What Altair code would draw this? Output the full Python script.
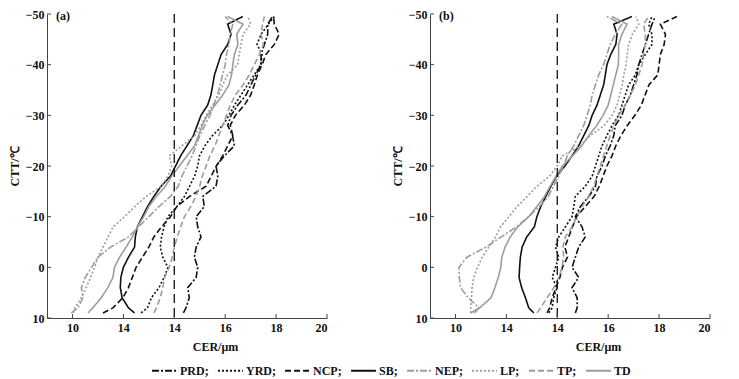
import altair as alt
import pandas as pd

# CTT sample levels (°C), shared by every curve
ctt = [9, 8, 6, 4, 2, 0, -2, -4, -6, -8, -10, -12, -14, -16, -18, -20, -22, -24,
       -26, -28, -30, -32, -34, -36, -38, -40, -42, -44, -46, -48, -49.5]

series = ["PRD", "YRD", "NCP", "SB", "NEP", "LP", "TP", "TD"]

# panel (a): CER (μm) at each CTT level
PRD_a = [14.36, 14.46, 14.59, 14.53, 14.86, 14.92, 14.79, 14.86, 15.05, 14.92, 14.86, 15.18, 15.12, 15.64, 15.71, 15.64,
         15.97, 16.36, 16.29, 16.1, 16.23, 16.49, 16.82, 17.01, 17.2, 17.41, 17.41, 17.54, 17.67, 17.67, 17.86]
YRD_a = [12.7, 12.95, 13.1, 13.4, 13.6, 13.75, 13.55, 13.45, 13.5, 13.6, 13.75, 14.1, 14.4, 14.6, 14.8, 14.92,
         14.99, 15.2, 15.5, 15.9, 16.15, 16.36, 16.62, 16.88, 17.14, 17.4, 17.45, 17.25, 17.41, 17.7, 17.93]
NCP_a = [11.2, 11.59, 11.98, 12.2, 12.35, 12.5, 12.75, 13.0, 13.2, 13.5, 13.85, 14.1, 14.6, 15.25, 15.45, 15.65,
         15.9, 16.1, 16.3, 16.2, 16.4, 16.75, 17.0, 17.14, 17.27, 17.45, 17.6, 17.93, 18.12, 17.93, 17.9]
SB_a = [12.44, 12.2, 11.95, 11.88, 11.9, 12.0, 12.2, 12.44, 12.47, 12.55, 12.75, 12.95, 13.2, 13.48, 13.85, 14.05,
        14.25, 14.5, 14.75, 14.9, 15.05, 15.31, 15.44, 15.51, 15.58, 15.71, 15.84, 16.1, 16.23, 16.1, 16.69]
NEP_a = [9.95, 10.22, 10.41, 10.35, 10.5, 10.75, 11.0, 11.5, 12.2, 12.6, 13.0, 13.4, 13.85, 14.15, 14.3, 14.5,
         14.7, 14.85, 15.0, 15.2, 15.4, 15.55, 15.7, 15.8, 15.9, 16.0, 16.05, 16.15, 16.2, 16.3, 16.0]
LP_a = [10.02, 10.1, 10.35, 10.54, 10.71, 10.87, 11.0, 11.2, 11.4, 11.6, 12.05, 12.45, 12.9, 13.5, 13.75, 13.9,
        13.8, 14.3, 14.8, 15.05, 15.25, 15.5, 15.75, 15.9, 16.1, 16.49, 16.55, 16.62, 16.7, 17.0, 16.9]
TP_a = [13.2, 13.3, 13.45, 13.55, 13.62, 13.8, 13.92, 14.0, 14.12, 14.25, 14.4, 14.65, 14.85, 15.0, 15.1, 15.25,
        15.4, 15.6, 15.75, 15.9, 16.05, 16.2, 16.4, 16.7, 16.95, 17.14, 17.35, 17.5, 17.41, 17.47, 17.54]
TD_a = [10.61, 10.8, 11.13, 11.39, 11.59, 11.65, 11.85, 12.11, 12.35, 12.55, 12.8, 13.0, 13.3, 13.65, 13.9, 14.2,
        14.5, 14.8, 14.95, 15.1, 15.3, 15.6, 15.9, 16.15, 16.25, 16.3, 16.36, 16.5, 16.45, 16.7, 16.1]

# panel (b)
PRD_b = [14.71, 14.78, 14.78, 14.58, 14.84, 14.58, 14.71, 14.84, 15.1, 14.97, 14.71, 14.91, 15.24, 15.5, 15.56, 15.76,
         15.89, 16.08, 16.22, 16.28, 16.54, 16.67, 16.87, 17.0, 17.13, 17.2, 17.33, 17.46, 17.59, 17.72, 17.85]
YRD_b = [13.67, 13.8, 13.86, 13.99, 13.8, 13.93, 14.06, 13.93, 14.06, 14.32, 14.58, 14.65, 14.71, 15.1, 15.37, 15.5,
         15.63, 15.76, 15.95, 16.15, 16.41, 16.54, 16.67, 16.8, 17.07, 17.2, 17.46, 17.72, 17.72, 17.59, 17.72]
NCP_b = [13.6, 13.7, 13.8, 13.95, 14.1, 14.2, 14.4, 14.3, 14.45, 14.6, 14.75, 15.1, 15.45, 15.65, 15.8, 15.95,
         16.15, 16.3, 16.5, 16.75, 17.05, 17.3, 17.45, 17.6, 17.95, 18.0, 18.05, 18.2, 18.25, 18.05, 18.7]
SB_b = [13.08, 12.88, 12.75, 12.6, 12.5, 12.52, 12.55, 12.62, 12.8, 13.1, 13.2, 13.35, 13.55, 13.75, 13.97, 14.3,
        14.58, 14.84, 15.04, 15.24, 15.37, 15.56, 15.69, 15.82, 15.89, 15.95, 16.1, 16.3, 16.35, 16.22, 16.93]
NEP_b = [10.75, 10.92, 10.5, 10.2, 10.15, 10.14, 10.45, 11.2, 11.8, 12.4, 12.88, 13.3, 13.65, 13.85, 14.05, 14.25,
         14.39, 14.65, 14.84, 15.04, 15.17, 15.3, 15.37, 15.5, 15.63, 15.82, 15.95, 16.08, 16.28, 16.54, 15.95]
LP_b = [10.6, 10.6, 10.63, 10.65, 10.72, 10.86, 11.05, 11.31, 11.58, 11.77, 12.1, 12.42, 12.82, 13.2, 13.7, 14.0,
        14.2, 14.9, 15.3, 15.85, 16.15, 16.35, 16.45, 16.55, 16.62, 16.7, 16.75, 16.8, 16.95, 17.2, 17.1]
TP_b = [13.21, 13.34, 13.6, 13.86, 14.06, 14.19, 14.25, 14.22, 14.32, 14.58, 14.78, 14.97, 15.24, 15.43, 15.56, 15.69,
        15.82, 15.95, 16.08, 16.22, 16.41, 16.67, 16.87, 17.07, 17.2, 17.33, 17.39, 17.46, 17.46, 17.39, 17.59]
TD_b = [10.6, 10.95, 11.4, 11.55, 11.68, 11.78, 11.82, 11.95, 12.15, 12.45, 12.88, 13.2, 13.5, 13.72, 13.95, 14.2,
        14.6, 14.96, 15.24, 15.55, 15.8, 16.0, 16.1, 16.2, 16.3, 16.4, 16.41, 16.41, 16.54, 16.74, 16.15]

panel_a = [PRD_a, YRD_a, NCP_a, SB_a, NEP_a, LP_a, TP_a, TD_a]
panel_b = [PRD_b, YRD_b, NCP_b, SB_b, NEP_b, LP_b, TP_b, TD_b]

x_ticks = [10, 12, 14, 16, 18, 20]
y_ticks = [-50, -40, -30, -20, -10, 0, 10]
ref_cer = [14]

colors = ["#111111", "#111111", "#111111", "#111111", "#9d9d9d", "#9d9d9d", "#9d9d9d", "#9d9d9d"]
dashes = [[7, 2, 2, 2], [2, 2], [6, 3], [1, 0], [7, 2, 2, 2], [2, 2], [6, 3], [1, 0]]

FONT = "Liberation Serif"
W, H = 280, 304


def long_df(values):
    rows = []
    for name, arr in zip(series, values):
        for i, (t, c) in enumerate(zip(ctt, arr)):
            rows.append({"series": name, "idx": i, "ctt": t, "cer": c})
    return pd.DataFrame(rows)


legend = alt.Legend(
    title=None, orient="none", legendX=104, legendY=343, direction="horizontal", columns=8,
    symbolType="stroke", symbolSize=620, symbolStrokeWidth=2, symbolOpacity=1, columnPadding=5, labelOffset=2,
    labelFont=FONT, labelFontSize=12, labelFontWeight="bold", labelColor="#111",
    labelExpr="datum.label == 'TD' ? datum.label : datum.label + ';'",
)

xscale = alt.Scale(domain=[9, 20], nice=False, zero=False)
yscale = alt.Scale(domain=[-50, 10], reverse=True, nice=False, zero=False)
xaxis = alt.Axis(values=x_ticks, title="CER/μm",
                 labelExpr="datum.value == 12 ? '14' : datum.label",
                 titleX=168, titleAlign="center")
yaxis = alt.Axis(values=y_ticks, title="CTT/℃")


def X(field="cer"):
    return alt.X(f"{field}:Q", scale=xscale, axis=xaxis)


def Y(field="ctt"):
    return alt.Y(f"{field}:Q", scale=yscale, axis=yaxis)


def panel(values, tag):
    df = long_df(values)
    lines = alt.Chart(df).mark_line(strokeWidth=1.6).encode(
        x=X(), y=Y(),
        color=alt.Color("series:N", scale=alt.Scale(domain=series, range=colors), legend=legend),
        strokeDash=alt.StrokeDash("series:N", scale=alt.Scale(domain=series, range=dashes), legend=legend),
        order="idx:Q",
    )
    ref = alt.Chart(pd.DataFrame({"cer": ref_cer})).mark_rule(
        color="#111", strokeDash=[9, 5], strokeWidth=1.3
    ).encode(x=X())
    xt = alt.Chart(pd.DataFrame({"cer": x_ticks})).mark_rule(color="#444", strokeWidth=1).encode(
        x=X(), y=alt.value(H), y2=alt.value(H - 4))
    yt = alt.Chart(pd.DataFrame({"ctt": y_ticks})).mark_rule(color="#444", strokeWidth=1).encode(
        y=Y(), x=alt.value(0), x2=alt.value(4))
    lab = alt.Chart(pd.DataFrame({"t": [tag]})).mark_text(
        align="left", baseline="middle", font=FONT, fontSize=12, fontWeight="bold", color="#111"
    ).encode(x=alt.value(9), y=alt.value(2), text="t:N")
    return alt.layer(lines, ref, xt, yt, lab).properties(width=W, height=H)


chart = alt.hconcat(panel(panel_a, "(a)"), panel(panel_b, "(b)"), spacing=63).resolve_scale(
    color="shared", strokeDash="shared"
).configure(
    padding={"left": 0, "top": 0, "right": 5, "bottom": 0},
    background="white",
).configure_view(stroke=None).configure_axis(
    grid=False, ticks=False, tickSize=0, domainColor="#444", domainWidth=1,
    labelFont=FONT, labelFontSize=12, labelFontWeight="bold", labelColor="#111",
    titleFont=FONT, titleFontSize=12, titleFontWeight="bold", titleColor="#111",
).configure_axisX(labelPadding=4, titlePadding=8).configure_axisY(labelPadding=3, titlePadding=4)

chart.save("out.html", embed_options={"renderer": "svg", "actions": False})
